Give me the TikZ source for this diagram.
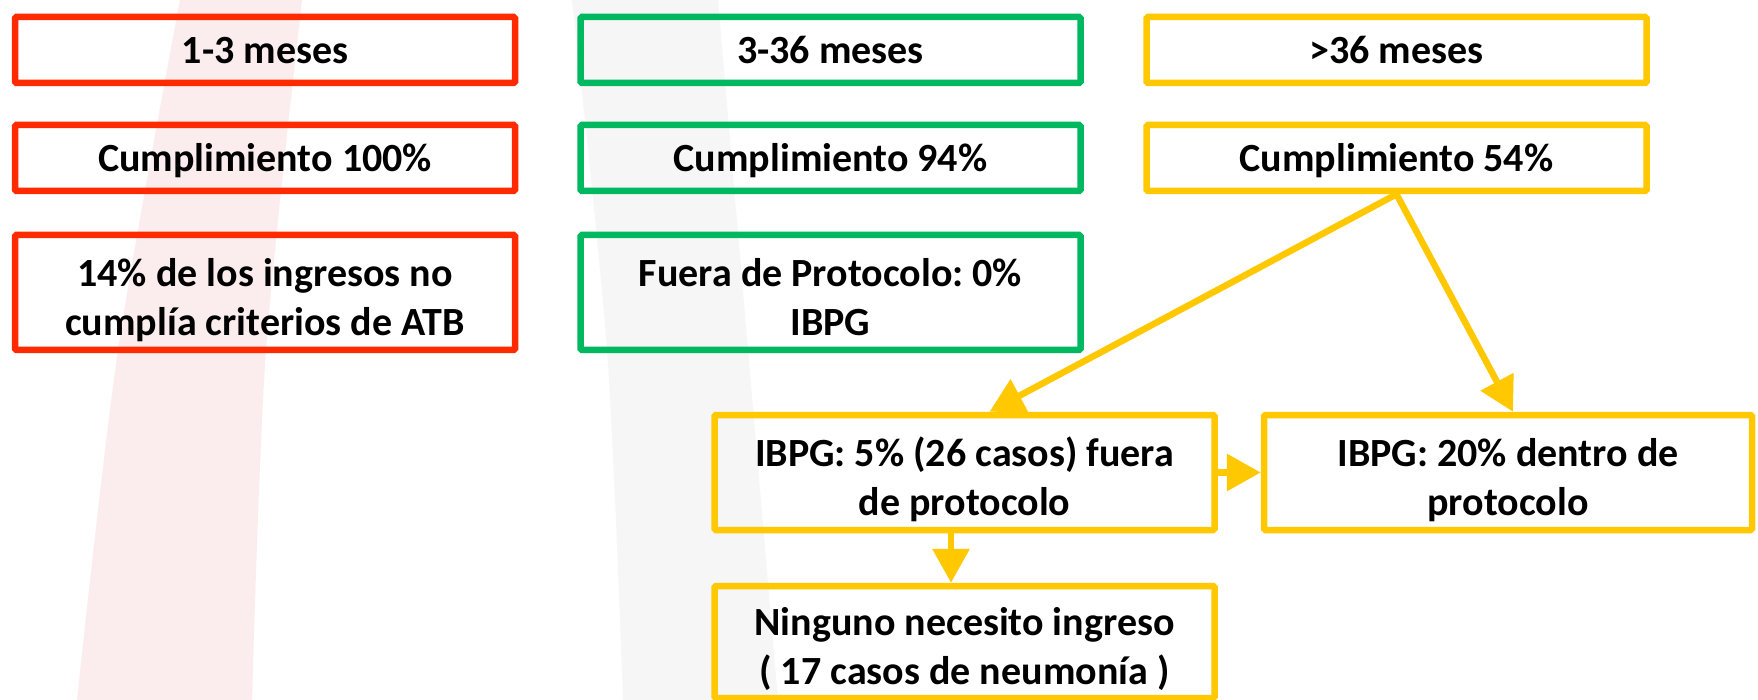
\documentclass[tikz,border=0pt]{standalone}
\usepackage{fontspec}
\setmainfont{Carlito}
\frenchspacing
\usetikzlibrary{arrows.meta}
\definecolor{cred}{HTML}{FF2A00}
\definecolor{cgreen}{HTML}{00B860}
\definecolor{cyellow}{HTML}{FFC800}
\definecolor{bandpink}{HTML}{FBEDED}
\definecolor{bandgrey}{HTML}{F6F6F6}
\begin{document}
\begin{tikzpicture}[x=1pt,y=-1pt,
  box/.style={draw, line width=6.5pt, rounded corners=1.5pt, inner sep=0pt, align=center,
    minimum width=500pt, text height=30pt, text depth=3pt,
    font=\bfseries\fontsize{40}{48.8}\selectfont\frenchspacing},
  twoline/.style={text height=88.4pt, text depth=3pt},
  conn/.style={draw=cyellow, line width=6.5pt, -{Triangle[length=34pt,width=36pt]}}]
\fill[white] (0,0) rectangle (1758,700);
\useasboundingbox (0,0) rectangle (1758,700);
% faint background bands
\fill[bandpink] plot[smooth] coordinates {(180,0) (118,350) (77,700)} -- plot[smooth] coordinates {(252,700) (266,350) (302,0)} -- cycle;
\fill[bandgrey] plot[smooth] coordinates {(572,0) (607,350) (623,700)} -- (778,700) -- (718,0) -- cycle;
% red column
\node[box, draw=cred, minimum height=66pt] (r1) at (265,50) {1-3 meses};
\node[box, draw=cred, minimum height=66pt] (r2) at (265,158) {Cumplimiento 100\%};
\node[box, twoline, draw=cred, minimum height=115pt] (r3) at (265,292.5) {14\% de los ingresos no\\cumplía criterios de ATB};
% green column
\node[box, draw=cgreen, minimum height=66pt] (g1) at (830.5,50) {3-36 meses};
\node[box, draw=cgreen, minimum height=66pt] (g2) at (830.5,158) {Cumplimiento 94\%};
\node[box, twoline, draw=cgreen, minimum height=115pt] (g3) at (830.5,292.5) {Fuera de Protocolo: 0\%\\IBPG};
% yellow column
\node[box, draw=cyellow, minimum height=66pt] (y1) at (1396.5,50) {>36 meses};
\node[box, draw=cyellow, minimum height=66pt] (y2) at (1396.5,158) {Cumplimiento 54\%};
\node[box, twoline, draw=cyellow, minimum height=115pt] (p5) at (964.5,472.5) {IBPG: 5\% (26 casos) fuera\\de protocolo};
\node[box, twoline, draw=cyellow, minimum height=115pt, minimum width=488pt] (p20) at (1508,472.5) {IBPG: 20\% dentro de\\protocolo};
\node[box, twoline, draw=cyellow, minimum height=112pt] (nin) at (964.5,642) {Ninguno necesito ingreso\\( 17 casos de neumonía )};
% connectors
\draw[conn] (y2.south) -- ([xshift=25pt]p5.north);
\draw[conn] (y2.south) -- ([xshift=5pt]p20.north);
\draw[conn] (p5.east) -- (p20.west);
\draw[conn] ([xshift=-13.5pt]p5.south) -- ([xshift=-13.5pt]nin.north);
\end{tikzpicture}
\end{document}
